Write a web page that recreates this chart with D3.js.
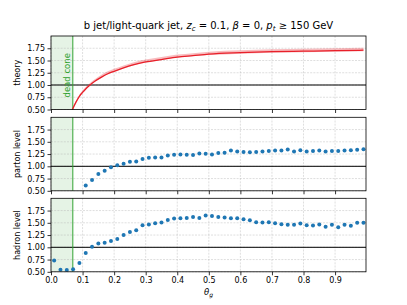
<!DOCTYPE html>
<html>
<head>
<meta charset="utf-8">
<script src="https://cdn.jsdelivr.net/npm/d3@7"></script>
<style>
  body { margin: 0; background: #fff; }
  text { font-family: "DejaVu Sans", sans-serif; }
</style>
</head>
<body>
<div id="chart"></div>
<script>
// bin centres of theta_g
let thetaBins = d3.range(50).map(function(i) { return +(0.01 + 0.02 * i).toFixed(2); })

// theory curve
let theoryTheta = [0.06, 0.068, 0.08, 0.09, 0.10, 0.11, 0.12, 0.14, 0.16, 0.18, 0.20, 0.23, 0.26, 0.30, 0.35, 0.40, 0.45, 0.50, 0.60, 0.70, 0.80, 0.90, 0.99]
let theoryMid = [0.38, 0.50, 0.66, 0.77, 0.85, 0.92, 0.98, 1.08, 1.16, 1.23, 1.28, 1.35, 1.41, 1.47, 1.52, 1.57, 1.60, 1.63, 1.66, 1.68, 1.69, 1.70, 1.71]
let theoryLo = [0.37, 0.49, 0.65, 0.76, 0.84, 0.91, 0.97, 1.07, 1.15, 1.22, 1.27, 1.34, 1.40, 1.46, 1.51, 1.56, 1.59, 1.61, 1.64, 1.66, 1.67, 1.68, 1.69]
let theoryHi = [0.40, 0.53, 0.69, 0.80, 0.89, 0.96, 1.02, 1.12, 1.21, 1.28, 1.33, 1.40, 1.46, 1.52, 1.57, 1.62, 1.65, 1.68, 1.71, 1.73, 1.74, 1.75, 1.76]

// parton level ratio, first bins are below the axis range
let partonValues = [null, null, null, null, null, 0.61, 0.72, 0.845, 0.91, 0.98,
    1.02, 1.05, 1.095, 1.10, 1.15, 1.175, 1.18, 1.18, 1.22, 1.235,
    1.24, 1.235, 1.23, 1.26, 1.255, 1.24, 1.27, 1.275, 1.32, 1.30,
    1.29, 1.285, 1.29, 1.30, 1.31, 1.32, 1.32, 1.345, 1.30, 1.33,
    1.30, 1.31, 1.325, 1.30, 1.31, 1.31, 1.325, 1.33, 1.34, 1.35]

// hadron level ratio
let hadronValues = [0.733, 0.54, 0.535, 0.55, 0.68, 0.885, 1.01, 1.08, 1.095, 1.13,
    1.17, 1.25, 1.31, 1.35, 1.45, 1.465, 1.49, 1.505, 1.555, 1.59,
    1.595, 1.60, 1.62, 1.60, 1.65, 1.64, 1.62, 1.61, 1.595, 1.595,
    1.575, 1.55, 1.51, 1.505, 1.51, 1.49, 1.47, 1.46, 1.46, 1.485,
    1.45, 1.445, 1.465, 1.42, 1.46, 1.41, 1.46, 1.44, 1.50, 1.50]

let xTicks = [0.0, 0.1, 0.2, 0.3, 0.4, 0.5, 0.6, 0.7, 0.8, 0.9]
let yTicks = [0.50, 0.75, 1.00, 1.25, 1.50, 1.75]
let deadCone = 0.069
let panelLabels = ["theory", "parton level", "hadron level"]

let width = 407,
    height = 305
let left = 51, right = 366
let panelTops = [36, 117.3, 198.3]
let panelH = 73.5

let svg = d3.select("#chart").append("svg")
    .attr("width", width)
    .attr("height", height)

let xScale = d3.scaleLinear().domain([0, 0.998]).range([left, right])

let red = "#e8202a", blue = "#1f77b4", green = "#2ca02c"

panelTops.forEach(function(top, p) {
    let yScale = d3.scaleLinear().domain([0.5, 2.0]).range([top + panelH, top])
    let g = svg.append("g")
    let clipId = "clip" + p
    svg.append("clipPath").attr("id", clipId)
        .append("rect").attr("x", left).attr("y", top).attr("width", right - left).attr("height", panelH)

    // dead cone shading
    g.append("rect")
        .attr("x", xScale(0)).attr("y", top)
        .attr("width", xScale(deadCone) - xScale(0)).attr("height", panelH)
        .attr("fill", green).attr("fill-opacity", 0.12)

    // grid
    g.selectAll(".gx").data(xTicks).enter().append("line")
        .attr("x1", function(d) { return xScale(d); }).attr("x2", function(d) { return xScale(d); })
        .attr("y1", top).attr("y2", top + panelH)
        .attr("stroke", "#b0b0b0").attr("stroke-opacity", 0.5).attr("stroke-width", 0.8)
        .attr("stroke-dasharray", "2,1.2")
    g.selectAll(".gy").data(yTicks).enter().append("line")
        .attr("x1", left).attr("x2", right)
        .attr("y1", function(d) { return yScale(d); }).attr("y2", function(d) { return yScale(d); })
        .attr("stroke", "#b0b0b0").attr("stroke-opacity", 0.5).attr("stroke-width", 0.8)
        .attr("stroke-dasharray", "2,1.2")

    // reference line at 1
    g.append("line")
        .attr("x1", left).attr("x2", right)
        .attr("y1", yScale(1)).attr("y2", yScale(1))
        .attr("stroke", "#000").attr("stroke-width", 1)

    // dead cone line
    g.append("line")
        .attr("x1", xScale(deadCone)).attr("x2", xScale(deadCone))
        .attr("y1", top).attr("y2", top + panelH)
        .attr("stroke", green).attr("stroke-opacity", 0.8).attr("stroke-width", 1.2)

    let plot = g.append("g").attr("clip-path", "url(#" + clipId + ")")

    if (p == 0) {
        let band = d3.area()
            .x(function(d, i) { return xScale(theoryTheta[i]); })
            .y0(function(d, i) { return yScale(theoryLo[i]); })
            .y1(function(d, i) { return yScale(theoryHi[i]); })
            .curve(d3.curveMonotoneX)
        plot.append("path").datum(theoryMid)
            .attr("d", band)
            .attr("fill", red).attr("fill-opacity", 0.3)
        let line = d3.line()
            .x(function(d, i) { return xScale(theoryTheta[i]); })
            .y(function(d) { return yScale(d); })
            .curve(d3.curveMonotoneX)
        plot.append("path").datum(theoryMid)
            .attr("d", line)
            .attr("fill", "none").attr("stroke", red).attr("stroke-width", 1.3)

        g.append("text")
            .attr("transform", "translate(" + (xScale(deadCone) - 2.5) + "," + (top + panelH - 12) + ") rotate(-90)")
            .attr("font-size", 8.5).attr("fill", green)
            .text("dead cone")
    } else {
        let vals = p == 1 ? partonValues : hadronValues
        plot.selectAll(".dot")
            .data(thetaBins.map(function(t, i) { return { t: t, v: vals[i] }; }).filter(function(d) { return d.v != null; }))
            .enter().append("circle")
            .attr("cx", function(d) { return xScale(d.t); })
            .attr("cy", function(d) { return yScale(d.v); })
            .attr("r", 2)
            .attr("fill", blue)
    }

    // axes
    let yAxis = d3.axisLeft(yScale).tickValues(yTicks).tickFormat(d3.format(".2f")).tickSize(3.5).tickPadding(2.5)
    let ya = g.append("g").attr("transform", "translate(" + left + ",0)").call(yAxis)
    let xAxis = d3.axisBottom(xScale).tickValues(xTicks).tickSize(3.5).tickPadding(2.5)
        .tickFormat(p == 2 ? d3.format(".1f") : function() { return ""; })
    let xa = g.append("g").attr("transform", "translate(0," + (top + panelH) + ")").call(xAxis)
    ;[ya, xa].forEach(function(a) {
        a.select(".domain").remove()
        a.selectAll("line").attr("stroke", "#000").attr("stroke-width", 0.8)
        a.selectAll("text").attr("font-size", 8).attr("fill", "#000").attr("font-family", "DejaVu Sans")
    })

    g.append("rect")
        .attr("x", left).attr("y", top).attr("width", right - left).attr("height", panelH)
        .attr("fill", "none").attr("stroke", "#000").attr("stroke-width", 0.8)

    g.append("text")
        .attr("transform", "translate(" + 20 + "," + (top + panelH / 2) + ") rotate(-90)")
        .attr("text-anchor", "middle")
        .attr("font-size", 8)
        .text(panelLabels[p])
})

// title
let title = svg.append("text")
    .attr("x", (left + right) / 2).attr("y", 29)
    .attr("text-anchor", "middle")
    .attr("font-size", 10)
title.append("tspan").text("b jet/light-quark jet, ")
title.append("tspan").attr("font-style", "italic").text("z")
title.append("tspan").attr("font-style", "italic").attr("font-size", 7).attr("dy", 2).text("c")
title.append("tspan").attr("dy", -2).text(" = 0.1, ")
title.append("tspan").attr("font-style", "italic").text("β")
title.append("tspan").text(" = 0, ")
title.append("tspan").attr("font-style", "italic").text("p")
title.append("tspan").attr("font-style", "italic").attr("font-size", 7).attr("dy", 2).text("t")
title.append("tspan").attr("dy", -2).text(" ≥ 150 GeV")

// x label
let xl = svg.append("text")
    .attr("x", (left + right) / 2).attr("y", 295)
    .attr("text-anchor", "middle")
    .attr("font-size", 8.5)
xl.append("tspan").attr("font-style", "italic").text("θ")
xl.append("tspan").attr("font-style", "italic").attr("font-size", 6).attr("dy", 2).text("g")
</script>
</body>
</html>
